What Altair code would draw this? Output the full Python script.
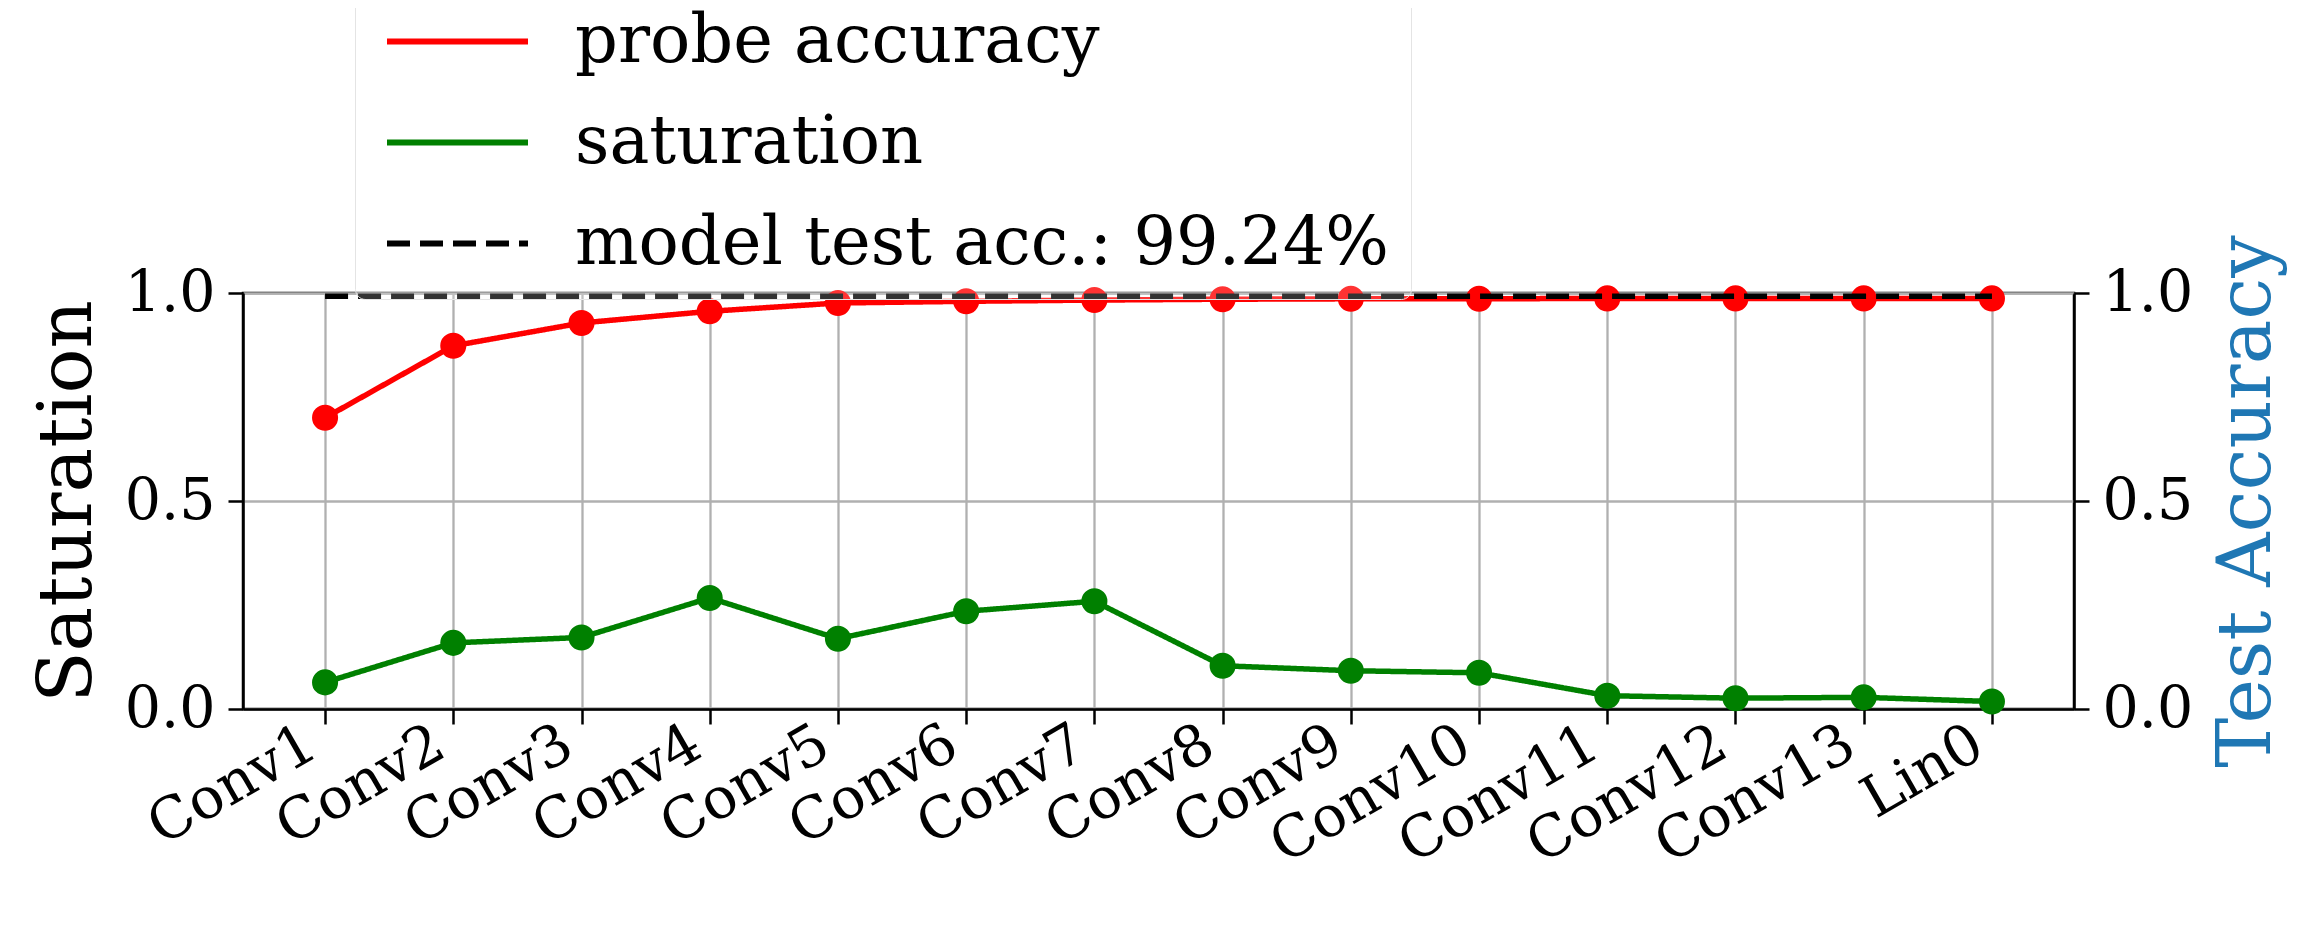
import json
import altair as alt
import pandas as pd

layers = ["Conv1", "Conv2", "Conv3", "Conv4", "Conv5", "Conv6", "Conv7",
          "Conv8", "Conv9", "Conv10", "Conv11", "Conv12", "Conv13", "Lin0"]
probe_accuracy = [0.700, 0.873, 0.928, 0.956, 0.976, 0.980, 0.983,
                  0.985, 0.986, 0.986, 0.987, 0.987, 0.987, 0.987]
saturation = [0.064, 0.159, 0.172, 0.267, 0.169, 0.235, 0.259,
              0.104, 0.092, 0.087, 0.032, 0.026, 0.028, 0.018]
model_test_acc = 0.9924

s_probe = "probe accuracy"
s_sat = "saturation"
s_test = f"model test acc.: {model_test_acc * 100:.2f}%"
series_order = [s_probe, s_sat, s_test]
series_colors = ["red", "green", "black"]
series_dash = [[1, 0], [1, 0], [23, 10]]

rows = []
for i, name in enumerate(layers):
    rows.append({"idx": i, "layer": name, "value": probe_accuracy[i], "series": s_probe})
for i, name in enumerate(layers):
    rows.append({"idx": i, "layer": name, "value": saturation[i], "series": s_sat})
df = pd.DataFrame(rows)
df_test = pd.DataFrame({"idx": list(range(len(layers))),
                        "value": [model_test_acc] * len(layers),
                        "series": [s_test] * len(layers)})

FONT = "DejaVu Serif"
W, H = 1831, 416

x_enc = alt.X(
    "idx:Q",
    scale=alt.Scale(domain=[-0.64, len(layers) - 1 + 0.64], nice=False, zero=False),
    axis=alt.Axis(
        values=list(range(len(layers))),
        labelExpr=f"{json.dumps(layers)}[datum.value]",
        title=None,
        labelAngle=-30, labelAlign="right", labelBaseline="alphabetic",
        labelPadding=30, labelOffset=-5, labelLimit=1000,
        labelFont=FONT, labelFontSize=57, labelColor="black",
        labelOverlap=False, labelFlush=False, labelBound=False,
        grid=True, gridColor="#b0b0b0", gridWidth=2.3,
        domainColor="black", domainWidth=2.5,
        tickColor="black", tickSize=15, tickWidth=2.5,
    ),
)

yscale = alt.Scale(domain=[0, 1], nice=False)
y_left = alt.Y(
    "value:Q", scale=yscale,
    axis=alt.Axis(
        values=[0, 0.5, 1], format=".1f", title="Saturation",
        titleFont=FONT, titleFontSize=75, titleFontWeight="normal", titleColor="black",
        titleAngle=270, titleX=-153, titleY=H / 2, titleAlign="center",
        titleBaseline="alphabetic",
        labelFont=FONT, labelFontSize=57, labelColor="black", labelPadding=13,
        labelFlush=False,
        grid=True, gridColor="#b0b0b0", gridWidth=2.3,
        domainColor="black", domainWidth=2.5,
        tickColor="black", tickSize=15, tickWidth=2.5,
    ),
)

color_scale = alt.Scale(domain=series_order, range=series_colors)
dash_scale = alt.Scale(domain=series_order, range=series_dash)

legend = alt.Legend(
    title=None, orient="none", legendX=112, legendY=-307,
    symbolType="M-1,0H5", symbolSize=47 * 47, symbolStrokeWidth=6,
    symbolFillColor="transparent",
    labelFont=FONT, labelFontSize=67, labelColor="black", labelOffset=131,
    labelLimit=2000,
    rowPadding=33, padding=22,
    fillColor="rgba(255,255,255,0.2)", strokeColor="#e4e4e4",
    cornerRadius=10,
)

lines = alt.Chart(df).mark_line(strokeWidth=5.5).encode(
    x=x_enc, y=y_left,
    color=alt.Color("series:N", scale=color_scale, legend=legend),
    strokeDash=alt.StrokeDash("series:N", scale=dash_scale, legend=legend),
    detail="series:N",
)

points = alt.Chart(df).mark_circle(size=680, opacity=1).encode(
    x=x_enc, y=y_left,
    color=alt.Color("series:N", scale=color_scale, legend=None),
)

left = alt.layer(lines, points)

y_right = alt.Y(
    "value:Q", scale=yscale,
    axis=alt.Axis(
        orient="right", values=[0, 0.5, 1], format=".1f", title="Test Accuracy",
        titleFont=FONT, titleFontSize=75, titleFontWeight="normal", titleColor="#1f77b4",
        titleAngle=270, titleX=195, titleY=H / 2, titleAlign="center",
        titleBaseline="alphabetic",
        labelFont=FONT, labelFontSize=57, labelColor="black", labelPadding=13,
        labelFlush=False, grid=False,
        domainColor="black", domainWidth=2.5,
        tickColor="black", tickSize=15, tickWidth=2.5,
    ),
)

test_line = alt.Chart(df_test).mark_line(strokeWidth=5.5).encode(
    x=x_enc, y=y_right,
    color=alt.Color("series:N", scale=color_scale, legend=legend),
    strokeDash=alt.StrokeDash("series:N", scale=dash_scale, legend=legend),
)

chart = alt.layer(left, test_line).resolve_scale(y="independent").properties(
    width=W, height=H,
    autosize=alt.AutoSizeParams(type="none"),
    padding={"left": 235, "top": 285, "right": 230, "bottom": 208},
    background="white",
).configure_view(stroke="black", strokeWidth=2.5)

chart.save("out.html", embed_options={"renderer": "svg", "actions": False})
